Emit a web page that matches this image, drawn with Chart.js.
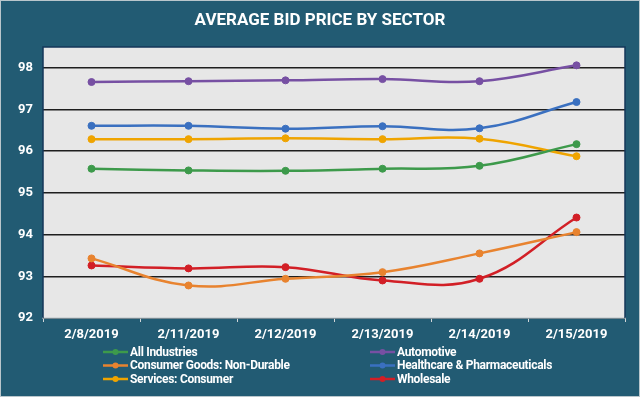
<!DOCTYPE html>
<html>
<head>
<meta charset="utf-8">
<script src="https://cdn.jsdelivr.net/npm/chart.js@4"></script>
<style>
  html, body { margin: 0; padding: 0; background: #225b73; }
  #wrap { width: 640px; height: 397px; }
</style>
</head>
<body>
<div id="wrap"><canvas id="myChart" width="640" height="397"></canvas></div>
<script>
const dates = ['2/8/2019', '2/11/2019', '2/12/2019', '2/13/2019', '2/14/2019', '2/15/2019'];
const seriesNames = ['All Industries', 'Automotive', 'Consumer Goods: Non-Durable', 'Healthcare & Pharmaceuticals', 'Services: Consumer', 'Wholesale'];
const allIndustries = [95.58, 95.54, 95.53, 95.58, 95.65, 96.17];
const automotive = [97.66, 97.68, 97.70, 97.73, 97.68, 98.06];
const consumerGoods = [93.43, 92.78, 92.94, 93.10, 93.55, 94.06];
const healthcare = [96.61, 96.61, 96.54, 96.60, 96.55, 97.18];
const servicesConsumer = [96.29, 96.29, 96.31, 96.29, 96.30, 95.88];
const wholesale = [93.26, 93.19, 93.22, 92.90, 92.94, 94.41];
const yTicks = [92, 93, 94, 95, 96, 97, 98];

const seriesValues = [allIndustries, automotive, consumerGoods, healthcare, servicesConsumer, wholesale];
const seriesColors = ['#3d9a4b', '#7750a3', '#e8832f', '#3a70c0', '#efa400', '#d21f26'];

const ctx = document.getElementById('myChart').getContext('2d');

// background, plot area fill and frame
const framePlugin = {
    id: 'frame',
    beforeDraw(chart) {
        const c = chart.ctx;
        const a = chart.chartArea;
        c.save();
        c.fillStyle = '#225b73';
        c.fillRect(0, 0, chart.width, chart.height);
        c.strokeStyle = '#b9c6cc';
        c.lineWidth = 1;
        c.strokeRect(0.5, 0.5, chart.width - 1, chart.height - 1);
        c.fillStyle = '#e7e7e7';
        c.fillRect(a.left, a.top, a.right - a.left, a.bottom - a.top);
        c.restore();
    },
    beforeDatasetsDraw(chart) {
        const c = chart.ctx;
        const a = chart.chartArea;
        c.save();
        c.strokeStyle = '#14375a';
        c.lineWidth = 1.5;
        c.beginPath();
        c.moveTo(a.left, a.bottom);
        c.lineTo(a.left, a.top);
        c.lineTo(a.right, a.top);
        c.lineTo(a.right, a.bottom);
        c.stroke();
        c.restore();
    },
    afterDraw(chart) {
        const c = chart.ctx;
        c.save();
        // title
        c.fillStyle = '#ffffff';
        c.font = 'bold 17px Roboto';
        c.textAlign = 'center';
        c.textBaseline = 'middle';
        c.fillText('AVERAGE BID PRICE BY SECTOR', 320, 21);
        // legend, two columns
        c.font = 'bold 12px Roboto';
        c.letterSpacing = '-0.3px';
        c.textAlign = 'left';
        chart.data.datasets.forEach((ds, i) => {
            const x = i % 2 === 0 ? 103 : 370;
            const y = 352 + Math.floor(i / 2) * 13.5;
            c.strokeStyle = ds.borderColor;
            c.lineWidth = 2.5;
            c.beginPath();
            c.moveTo(x, y);
            c.lineTo(x + 25, y);
            c.stroke();
            c.fillStyle = ds.borderColor;
            c.beginPath();
            c.arc(x + 12.5, y, 3, 0, Math.PI * 2);
            c.fill();
            c.fillStyle = '#ffffff';
            c.fillText(ds.label, x + 27, y + 0.5);
        });
        c.restore();
    }
};

const myChart = new Chart(ctx, {
    type: 'line',
    data: {
        labels: dates,
        datasets: seriesNames.map((name, i) => ({
            label: name,
            data: seriesValues[i],
            borderColor: seriesColors[i],
            backgroundColor: seriesColors[i],
            borderWidth: 2.5,
            pointRadius: 3.5,
            pointBorderWidth: 1,
            tension: 0.4,
            fill: false
        }))
    },
    options: {
        responsive: false,
        animation: false,
        layout: { padding: { left: 0, right: 15, top: 47, bottom: 51 } },
        plugins: {
            legend: { display: false },
            title: { display: false },
            tooltip: { enabled: false }
        },
        scales: {
            x: {
                offset: true,
                afterFit: scale => { scale.height = 28; },
                grid: {
                    offset: true,
                    drawOnChartArea: false,
                    drawTicks: true,
                    tickLength: 4,
                    color: '#d0d6d9'
                },
                border: { display: true, color: '#d0d6d9', width: 1.5 },
                ticks: {
                    color: '#ffffff',
                    font: { family: 'Roboto', size: 13, weight: 'bold' },
                    padding: 5,
                    maxRotation: 0
                }
            },
            y: {
                min: 92,
                max: 98.5,
                afterFit: scale => { scale.width = 43; },
                afterBuildTicks: axis => { axis.ticks = yTicks.map(v => ({ value: v })); },
                grid: {
                    color: '#1e1e1e',
                    lineWidth: 1.5,
                    drawTicks: false
                },
                border: { display: false },
                ticks: {
                    color: '#ffffff',
                    font: { family: 'Roboto', size: 13, weight: 'bold' },
                    padding: 10
                }
            }
        }
    },
    plugins: [framePlugin]
});
</script>
</body>
</html>
